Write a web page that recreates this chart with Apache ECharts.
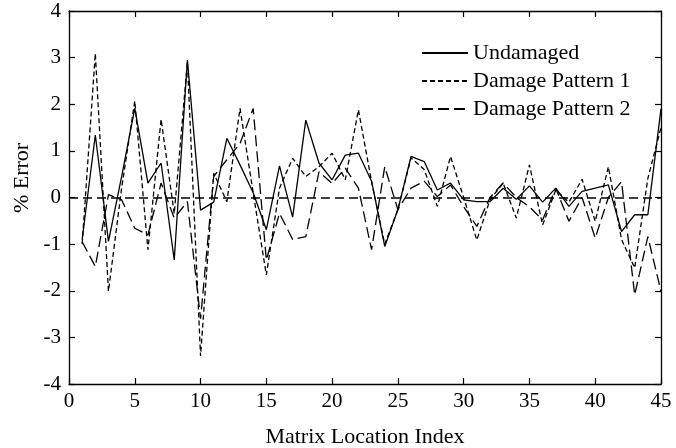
<!DOCTYPE html>
<html>
<head>
<meta charset="utf-8">
<script src="https://cdn.jsdelivr.net/npm/echarts@6/dist/echarts.min.js"></script>
<style>
html,body{margin:0;padding:0;background:#fff;}
#chart{width:676px;height:448px;}
</style>
</head>
<body>
<div id="chart"></div>
<script>
var seriesNames = ['Undamaged', 'Damage Pattern 1', 'Damage Pattern 2'];
var xTicks = [0, 5, 10, 15, 20, 25, 30, 35, 40, 45];
var yTicks = [-4, -3, -2, -1, 0, 1, 2, 3, 4];

var undamaged = [
  -0.90, 1.34, -0.94, 0.45, 1.91, 0.31, 0.74, -1.34, 2.95, -0.27,
  -0.10, 1.27, 0.70, 0.10, -0.69, 0.68, -0.42, 1.66, 0.74, 0.38,
  0.91, 0.95, 0.35, -1.05, -0.26, 0.88, 0.77, 0.16, 0.31, -0.05,
  -0.09, -0.09, 0.20, -0.04, 0.25, -0.10, 0.20, -0.19, 0.13, 0.20,
  0.27, -0.73, -0.37, -0.37, 1.90
];
var damage1 = [
  -1.00, 3.09, -2.01, 0.20, 2.07, -1.12, 1.68, -0.35, 2.90, -3.40,
  0.52, -0.09, 1.91, 0.10, -1.66, 0.20, 0.84, 0.45, 0.66, 0.95,
  0.38, 1.88, 0.34, -1.00, -0.26, 0.85, 0.60, -0.19, 0.88, 0.00,
  -0.91, -0.05, 0.31, -0.44, 0.70, -0.59, 0.16, -0.10, 0.39, -0.51,
  0.66, -0.90, -1.51, 0.41, 1.50
];
var damage2 = [
  -0.95, -1.48, 0.06, -0.05, -0.66, -0.80, 0.31, -0.44, -0.09, -2.60,
  0.45, 0.81, 1.16, 1.91, -1.34, -0.34, -0.90, -0.84, 0.55, 0.30,
  0.63, 0.20, -1.12, 0.66, -0.26, 0.20, 0.35, 0.02, 0.27, -0.20,
  -0.62, 0.00, 0.31, 0.00, -0.20, -0.48, 0.20, -0.51, 0.00, -0.87,
  0.00, 0.34, -2.09, -0.84, -2.01
];

function pairs(arr) {
  return arr.map(function (v, i) { return [i + 1, v]; });
}

var FONT = 'Liberation Serif';
var chart = echarts.init(document.getElementById('chart'), null, {renderer: 'canvas'});

var axisCommon = {
  axisLine: {show: true, onZero: false, lineStyle: {color: '#000', width: 1.3}},
  axisTick: {show: true, inside: true, length: 6, lineStyle: {color: '#000', width: 1.2}},
  splitLine: {show: false}
};

var option = {
  animation: false,
  backgroundColor: '#fff',
  grid: {left: 69, right: 15, top: 11, bottom: 64, containLabel: false, outerBoundsMode: 'none'},
  legend: {
    data: seriesNames,
    orient: 'vertical',
    left: 416,
    top: 37,
    itemWidth: 46,
    itemHeight: 14,
    itemGap: 6,
    itemStyle: {opacity: 0},
    textStyle: {fontFamily: FONT, fontSize: 22, color: '#000'}
  },
  graphic: [{
    type: 'text',
    x: 22,
    y: 178,
    rotation: Math.PI / 2,
    style: {text: '% Error', font: '22px "Liberation Serif"', fill: '#000', textAlign: 'center', textVerticalAlign: 'middle'}
  }],
  xAxis: [
    Object.assign({}, axisCommon, {
      type: 'value', position: 'bottom', min: 0, max: 45, interval: 5,
      name: 'Matrix Location Index', nameLocation: 'middle', nameGap: 42,
      nameTextStyle: {fontFamily: FONT, fontSize: 22, color: '#000'},
      axisLabel: {fontFamily: FONT, fontSize: 21, color: '#000', margin: 7,
        formatter: function (v) { return xTicks.indexOf(v) >= 0 ? String(v) : ''; }}
    }),
    Object.assign({}, axisCommon, {
      type: 'value', position: 'top', min: 0, max: 45, interval: 5,
      axisLabel: {show: false}
    })
  ],
  yAxis: [
    Object.assign({}, axisCommon, {
      type: 'value', position: 'left', min: -4, max: 4, interval: 1,
      axisLabel: {fontFamily: FONT, fontSize: 21, color: '#000', margin: 8,
        formatter: function (v) { return yTicks.indexOf(v) >= 0 ? String(v) : ''; }}
    }),
    Object.assign({}, axisCommon, {
      type: 'value', position: 'right', min: -4, max: 4, interval: 1,
      axisLabel: {show: false}
    })
  ],
  series: [
    {
      name: seriesNames[0], type: 'line', data: pairs(undamaged),
      symbol: 'none', color: '#000',
      lineStyle: {color: '#000', width: 1.3, type: 'solid'},
      markLine: {
        silent: true, symbol: 'none', label: {show: false},
        lineStyle: {color: '#000', width: 1.5, type: [9, 5]},
        data: [{yAxis: 0}]
      },
      z: 3
    },
    {
      name: seriesNames[1], type: 'line', data: pairs(damage1),
      symbol: 'none', color: '#000',
      lineStyle: {color: '#000', width: 1.3, type: [5, 3]},
      z: 2
    },
    {
      name: seriesNames[2], type: 'line', data: pairs(damage2),
      symbol: 'none', color: '#000',
      lineStyle: {color: '#000', width: 1.3, type: [11, 5]},
      z: 2
    }
  ]
};
chart.setOption(option);
</script>
</body>
</html>
